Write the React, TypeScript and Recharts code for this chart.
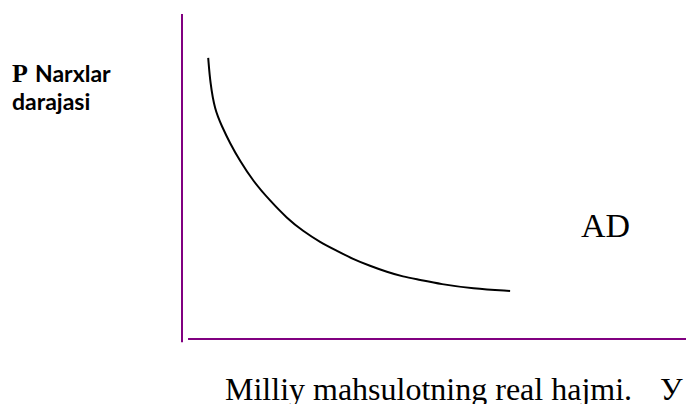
import { LineChart, Line, XAxis, YAxis, ReferenceLine } from "recharts";

// AD curve (x: real output, y: price level, 0–100 scale)
const outputValues = [
  5.2, 5.6, 6.5, 7.9, 9.5, 11.5, 14.1, 17.5, 20.8, 24.0,
  27.4, 30.8, 33.9, 37.3, 40.7, 43.8, 47.2, 51.2, 57.7, 65.1,
];
const priceValues = [
  86.5, 78.8, 70.5, 65.5, 60.3, 54.8, 48.6, 42.5, 37.2, 33.2,
  29.8, 27.1, 24.6, 22.5, 20.6, 19.2, 18.2, 16.9, 15.5, 14.8,
];

const yLabel = ["Narxlar", "darajasi"];
const xLabel = "Milliy mahsulotning real hajmi.";
const curveLabel = "AD";

const data = outputValues.map((x, i) => ({ x, p: priceValues[i] }));

const axisColor = "#800080";
const serif = "'Liberation Serif', 'Times New Roman', serif";
const sans = "Lato, 'Liberation Sans', sans-serif";

export default function App() {
  return (
    <div style={{ position: "absolute", left: 0, top: 0, width: 686, height: 404, background: "#fff" }}>
      <LineChart width={686} height={404} data={data} margin={{ top: 14, right: 0, bottom: 65, left: 182 }}>
        <XAxis dataKey="x" type="number" domain={[0, 100]} hide />
        <YAxis type="number" domain={[0, 100]} hide />
        <ReferenceLine
          segment={[{ x: 0, y: -1 }, { x: 0, y: 100 }]}
          stroke={axisColor}
          strokeWidth={2}
          ifOverflow="visible"
        />
        <ReferenceLine
          segment={[{ x: 1.2, y: 0 }, { x: 100, y: 0 }]}
          stroke={axisColor}
          strokeWidth={2}
        />
        <Line
          type="basis"
          dataKey="p"
          stroke="#000"
          strokeWidth={2}
          dot={false}
          activeDot={false}
          isAnimationActive={false}
        />
        <text x={12} y={82} fontFamily={serif} fontWeight="bold" fontSize={26} fill="#000">P</text>
        <text x={35} y={82} fontFamily={sans} fontWeight="bold" fontSize={23} fill="#000">{yLabel[0]}</text>
        <text x={12} y={110} fontFamily={sans} fontWeight="bold" fontSize={23} fill="#000">{yLabel[1]}</text>
        <text x={581} y={237} fontFamily={serif} fontSize={34} fill="#000">{curveLabel}</text>
        <text x={225} y={400} fontFamily={serif} fontSize={32} fill="#000">{xLabel}</text>
        <text x={660} y={400} fontFamily={serif} fontSize={32} fill="#000">У</text>
      </LineChart>
    </div>
  );
}
